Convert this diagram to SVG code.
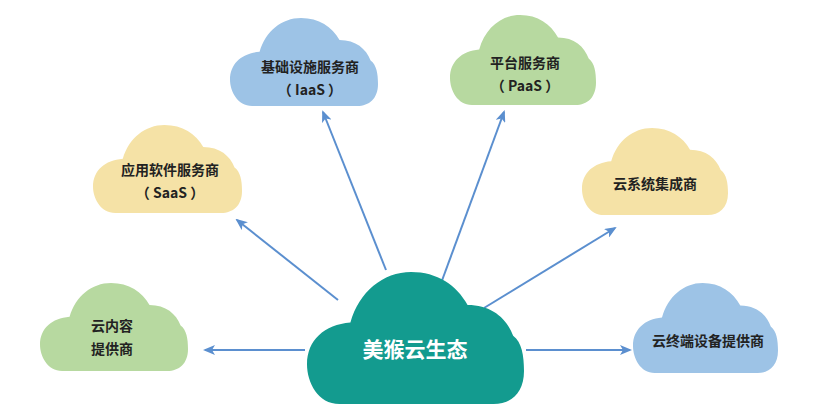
<svg xmlns="http://www.w3.org/2000/svg" width="836" height="412" viewBox="0 0 836 412">
<style>
.t{font-family:"Noto Sans CJK SC","Noto Sans",sans-serif;font-size:14px;font-weight:bold;fill:#222;text-anchor:middle}
.c{font-family:"Noto Sans CJK SC","Noto Sans",sans-serif;font-size:21px;font-weight:bold;fill:#fff;text-anchor:middle}
.a{stroke:#5b8fcf;stroke-width:2;fill:none;marker-end:url(#ah)}
</style>
<defs>
<symbol id="cloud" viewBox="0 0 100 60" preserveAspectRatio="none">
<path d="M15,60 C5,60 0,50 0,42 C0,31 8,24 20,23 C24,9 35,0 48,0 C60,0 69,6 74,15 C85,15 92,21 95,29 C99,32 100,38 100,45 C100,55 94,60 86,60 Z"/>
</symbol>
<marker id="ah" viewBox="0 0 12 10" refX="10" refY="5" markerWidth="12" markerHeight="10" markerUnits="userSpaceOnUse" orient="auto">
<path d="M0,0 L12,5 L0,10 L3,5 Z" fill="#5b8fcf"/>
</marker>
</defs>
<rect width="836" height="412" fill="#fff"/>
<g id="connectors">
<line class="a" x1="305" y1="350" x2="205" y2="350"/>
<line class="a" x1="338" y1="300" x2="237" y2="220"/>
<line class="a" x1="386" y1="270" x2="323" y2="112"/>
<line class="a" x1="440" y1="286" x2="504" y2="112"/>
<line class="a" x1="484" y1="308" x2="615" y2="228"/>
<line class="a" x1="526" y1="350" x2="630" y2="350"/>
</g>
<g id="iaas"><use href="#cloud" x="230" y="18" width="148" height="88" fill="#9dc3e6"/><text class="t" x="310" y="72">基础设施服务商</text><text class="t" x="310" y="95">（ IaaS ）</text></g>
<g id="paas"><use href="#cloud" x="450" y="15" width="146" height="90" fill="#b7d9a0"/><text class="t" x="525" y="68">平台服务商</text><text class="t" x="525" y="91">（ PaaS ）</text></g>
<g id="saas"><use href="#cloud" x="93" y="125" width="149" height="88" fill="#f5e2a6"/><text class="t" x="170" y="175">应用软件服务商</text><text class="t" x="170" y="198">（ SaaS ）</text></g>
<g id="si"><use href="#cloud" x="582" y="128" width="146" height="87" fill="#f5e2a6"/><text class="t" x="655" y="189">云系统集成商</text></g>
<g id="content"><use href="#cloud" x="40" y="283" width="148" height="88" fill="#b7d9a0"/><text class="t" x="112" y="331">云内容</text><text class="t" x="112" y="354">提供商</text></g>
<g id="device"><use href="#cloud" x="633" y="283" width="145" height="90" fill="#9dc3e6"/><text class="t" x="708" y="346">云终端设备提供商</text></g>
<g id="center"><use href="#cloud" x="307" y="272" width="217" height="132" fill="#139b8f"/><text class="c" x="415" y="357">美猴云生态</text></g>
</svg>
